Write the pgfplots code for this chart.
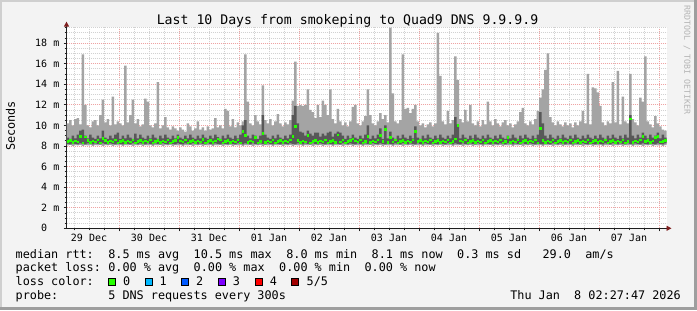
\documentclass[border=0pt]{standalone}
\usepackage{pgfplots}
\pgfplotsset{compat=1.18}
\usepackage{pgfplotstable}
\usepgfplotslibrary{fillbetween}
\usetikzlibrary{arrows.meta}
\usepackage{fontspec}
\setmainfont{DejaVu Sans Mono}
\definecolor{backc}{HTML}{F3F3F3}
\definecolor{shadea}{HTML}{CFCFCF}
\definecolor{shadeb}{HTML}{9E9E9E}
\definecolor{mgridc}{HTML}{EFA3A3}
\definecolor{gridc}{HTML}{D2D2D2}
\definecolor{axisc}{HTML}{1F1F1F}
\definecolor{arrowc}{HTML}{7F1F1F}
\definecolor{smokel}{HTML}{A4A4A4}
\definecolor{smoked}{HTML}{585858}
\definecolor{loss0}{HTML}{26FF00}
\definecolor{loss1}{HTML}{00B8FF}
\definecolor{loss2}{HTML}{0059FF}
\definecolor{loss3}{HTML}{7E00FF}
\definecolor{loss4}{HTML}{FF0000}
\definecolor{loss5}{HTML}{A10000}
\definecolor{wmc}{HTML}{B4B4B4}
% hourly smoke: x = hour start (0 = first red day line), hi = max, q4 = 4th ping, md = median, q2 = 2nd ping, lo = min (ms)
\pgfplotstableread{
x hi q4 md q2 lo
-21 10.2 8.8 8.45 8.2 8.05
-20 10.5 8.7 8.55 8.15 8.1
-19 10.0 9.0 8.35 8.25 8.0
-18 10.6 8.75 8.5 8.2 8.08
-17 10.7 9.1 8.4 8.15 8.05
-16 10.1 9.5 8.9 8.25 8.1
-15 16.9 9.6 8.3 8.2 8.0
-14 12.0 9.0 8.85 8.15 8.08
-13 10.0 8.75 8.55 8.25 8.05
-12 9.8 9.1 8.35 8.2 8.1
-11 10.4 8.8 8.5 8.15 8.0
-10 10.5 8.7 8.4 8.25 8.08
-9 10.0 9.0 8.6 8.2 8.05
-8 11.0 8.75 8.3 8.15 8.1
-7 12.5 9.5 8.75 8.25 8.0
-6 10.3 8.8 8.55 8.2 8.08
-5 10.6 8.7 8.35 8.15 8.05
-4 10.0 9.0 8.5 8.25 8.1
-3 12.8 8.75 8.4 8.2 8.0
-2 10.1 9.1 8.6 8.15 8.08
-1 10.4 9.3 8.3 8.25 8.05
0 10.2 8.7 8.45 8.2 8.1
1 10.0 9.0 8.55 8.15 8.0
2 15.8 8.75 8.35 8.25 8.08
3 10.3 9.1 8.5 8.2 8.05
4 11.0 8.8 8.4 8.15 8.1
5 12.5 8.7 8.6 8.25 8.0
6 10.2 9.2 8.3 8.2 8.08
7 10.6 8.75 8.45 8.15 8.05
8 9.9 9.1 8.55 8.25 8.1
9 10.1 8.8 8.35 8.2 8.0
10 12.6 8.7 8.5 8.15 8.08
11 12.3 9.0 8.4 8.25 8.05
12 10.0 8.75 8.6 8.2 8.1
13 9.8 9.1 8.3 8.15 8.0
14 10.2 8.8 8.45 8.25 8.08
15 14.2 8.7 8.55 8.2 8.05
16 9.7 9.0 8.35 8.15 8.1
17 10.0 8.75 8.5 8.25 8.0
18 10.8 9.1 8.4 8.2 8.08
19 9.8 8.8 8.6 8.15 8.05
20 9.6 8.7 8.3 8.25 8.1
21 9.9 9.0 8.45 8.2 8.0
22 9.7 8.75 8.55 8.15 8.08
23 9.5 9.1 8.8 8.25 8.05
24 9.8 8.8 8.5 8.2 8.1
25 9.6 8.7 8.4 8.15 8.0
26 9.4 9.0 8.6 8.25 8.08
27 10.2 8.75 8.3 8.2 8.05
28 9.9 9.1 8.45 8.15 8.1
29 9.5 8.8 8.55 8.25 8.0
30 9.7 8.7 8.35 8.2 8.08
31 10.4 9.0 8.5 8.15 8.05
32 9.6 8.75 8.4 8.25 8.1
33 9.8 9.1 8.65 8.2 8.0
34 9.5 8.8 8.3 8.15 8.08
35 9.9 8.7 8.45 8.25 8.05
36 9.6 9.0 8.55 8.2 8.1
37 9.7 8.75 8.35 8.15 8.0
38 10.7 9.1 8.5 8.25 8.08
39 9.8 8.85 8.7 8.2 8.05
40 10.0 8.7 8.6 8.15 8.1
41 9.7 9.0 8.3 8.25 8.0
42 11.6 8.75 8.45 8.2 8.08
43 11.4 9.1 8.55 8.15 8.05
44 9.9 8.8 8.35 8.25 8.1
45 10.6 8.7 8.5 8.2 8.0
46 9.8 9.0 8.4 8.15 8.08
47 10.3 8.75 8.6 8.25 8.05
48 10.0 9.1 8.3 8.2 8.1
49 10.4 10.0 9.4 8.15 8.0
50 16.9 10.5 9.0 8.25 8.08
51 12.3 9.0 8.35 8.2 8.05
52 10.2 8.75 8.5 8.15 8.1
53 10.0 9.1 8.4 8.25 8.0
54 11.0 9.0 8.8 8.2 8.08
55 10.4 8.7 8.3 8.15 8.05
56 10.1 9.0 8.45 8.25 8.1
57 13.9 11.0 9.2 8.2 8.0
58 10.5 9.1 8.35 8.15 8.08
59 10.2 8.8 8.5 8.25 8.05
60 10.6 8.7 8.4 8.2 8.1
61 10.0 9.0 8.6 8.15 8.0
62 10.4 8.75 8.3 8.25 8.08
63 11.1 9.1 8.45 8.2 8.05
64 10.2 8.8 8.55 8.15 8.1
65 9.9 8.7 8.35 8.25 8.0
66 10.3 9.0 8.5 8.2 8.08
67 10.1 8.75 8.4 8.15 8.05
68 10.5 9.1 8.6 8.25 8.1
69 12.4 11.0 8.9 8.2 8.0
70 16.2 11.9 9.9 8.15 8.08
71 11.9 10.2 8.55 8.25 8.05
72 12.0 9.4 8.35 8.2 8.1
73 11.9 9.3 8.5 8.15 8.0
74 12.0 9.0 8.4 8.25 8.08
75 13.5 9.5 9.0 8.2 8.05
76 11.5 9.2 8.3 8.15 8.1
77 11.3 9.0 8.45 8.25 8.0
78 10.7 9.3 8.55 8.2 8.08
79 12.0 9.3 8.35 8.15 8.05
80 10.8 8.9 8.5 8.25 8.1
81 12.4 9.2 8.4 8.2 8.0
82 12.0 9.0 8.6 8.15 8.08
83 11.0 9.3 8.3 8.25 8.05
84 13.5 9.4 8.45 8.2 8.1
85 10.6 8.9 8.55 8.15 8.0
86 10.2 9.2 8.35 8.25 8.08
87 11.6 9.4 9.05 8.2 8.05
88 10.4 9.3 8.4 8.15 8.1
89 10.0 9.0 8.6 8.25 8.0
90 10.3 8.7 8.3 8.2 8.08
91 9.9 9.0 8.45 8.15 8.05
92 10.4 8.75 8.55 8.25 8.1
93 11.8 9.1 8.7 8.2 8.0
94 12.0 8.8 8.5 8.15 8.08
95 10.2 8.7 8.4 8.25 8.05
96 10.0 9.0 8.6 8.2 8.1
97 10.4 8.75 8.3 8.15 8.0
98 10.9 9.1 8.45 8.25 8.08
99 13.5 10.0 8.9 8.2 8.05
100 11.0 8.7 8.35 8.15 8.1
101 10.2 9.0 8.5 8.25 8.0
102 10.0 8.75 8.4 8.2 8.08
103 10.4 9.1 8.6 8.15 8.05
104 11.2 9.7 9.0 8.25 8.1
105 10.6 8.7 8.45 8.2 8.0
106 11.0 10.0 9.6 8.15 8.08
107 10.3 8.75 8.35 8.25 8.05
108 19.5 9.4 8.8 8.2 8.1
109 13.1 8.8 8.4 8.15 8.0
110 10.4 8.7 8.6 8.25 8.08
111 10.2 9.0 8.3 8.2 8.05
112 10.5 8.75 8.45 8.15 8.1
113 16.9 9.1 8.55 8.25 8.0
114 11.6 8.8 8.35 8.2 8.08
115 11.7 8.7 8.5 8.15 8.05
116 11.2 9.0 8.4 8.25 8.1
117 11.6 8.75 8.6 8.2 8.0
118 12.0 9.9 9.4 8.15 8.08
119 10.4 8.8 8.45 8.25 8.05
120 10.0 8.7 8.55 8.2 8.1
121 10.2 9.0 8.35 8.15 8.0
122 9.8 8.75 8.5 8.25 8.08
123 10.1 9.1 8.4 8.2 8.05
124 10.3 8.8 8.6 8.15 8.1
125 9.9 8.7 8.3 8.25 8.0
126 10.2 9.0 8.45 8.2 8.08
127 19.0 8.75 8.55 8.15 8.05
128 14.8 9.1 8.35 8.25 8.1
129 10.4 8.8 8.5 8.2 8.0
130 10.1 8.7 8.4 8.15 8.08
131 11.4 9.0 8.6 8.25 8.05
132 10.2 8.75 8.3 8.2 8.1
133 10.5 9.1 8.45 8.15 8.0
134 16.7 10.8 8.7 8.25 8.08
135 14.4 10.1 10.0 8.2 8.05
136 10.6 8.75 8.5 8.15 8.1
137 10.3 9.1 8.4 8.25 8.0
138 11.5 8.8 8.6 8.2 8.08
139 10.4 8.7 8.3 8.15 8.05
140 12.0 9.0 8.45 8.25 8.1
141 10.2 8.75 8.55 8.2 8.0
142 10.0 9.1 8.35 8.15 8.08
143 10.4 8.8 8.5 8.25 8.05
144 9.9 8.7 8.4 8.2 8.1
145 10.5 9.0 8.6 8.15 8.0
146 10.1 8.75 8.3 8.25 8.08
147 12.3 9.1 8.45 8.2 8.05
148 10.4 8.8 8.55 8.15 8.1
149 10.0 8.7 8.35 8.25 8.0
150 10.6 9.0 8.5 8.2 8.08
151 10.2 8.75 8.4 8.15 8.05
152 9.9 9.1 8.6 8.25 8.1
153 10.3 8.8 8.3 8.2 8.0
154 10.5 8.7 8.45 8.15 8.08
155 10.0 9.0 8.8 8.25 8.05
156 10.2 8.75 8.35 8.2 8.1
157 9.8 9.1 8.5 8.15 8.0
158 10.1 8.8 8.4 8.25 8.08
159 10.4 8.7 8.6 8.2 8.05
160 11.3 9.0 8.3 8.15 8.1
161 11.7 8.75 8.45 8.25 8.0
162 10.2 9.1 8.55 8.2 8.08
163 10.0 8.8 8.35 8.15 8.05
164 10.4 8.7 8.5 8.25 8.1
165 10.1 9.0 8.4 8.2 8.0
166 10.6 8.75 8.6 8.15 8.08
167 11.4 9.1 8.3 8.25 8.05
168 12.7 11.3 9.7 8.2 8.1
169 13.5 10.2 8.55 8.15 8.0
170 15.4 9.0 8.35 8.25 8.08
171 17.0 8.75 8.5 8.2 8.05
172 10.8 9.1 8.4 8.15 8.1
173 10.3 8.8 8.6 8.25 8.0
174 10.0 8.7 8.3 8.2 8.08
175 10.4 9.0 8.45 8.15 8.05
176 10.1 8.75 8.55 8.25 8.1
177 9.9 9.1 8.35 8.2 8.0
178 10.3 8.8 8.5 8.15 8.08
179 10.0 8.7 8.4 8.25 8.05
180 10.2 9.0 8.6 8.2 8.1
181 9.8 8.75 8.3 8.15 8.0
182 10.3 9.1 8.45 8.25 8.08
183 10.0 8.8 8.55 8.2 8.05
184 10.4 8.7 8.35 8.15 8.1
185 11.4 9.0 8.5 8.25 8.0
186 10.2 8.75 8.4 8.2 8.08
187 15.0 9.1 8.6 8.15 8.05
188 10.1 8.8 8.3 8.25 8.1
189 13.7 8.7 8.45 8.2 8.0
190 13.6 9.0 8.55 8.15 8.08
191 13.2 8.75 8.35 8.25 8.05
192 11.9 9.1 8.5 8.2 8.1
193 10.3 8.8 8.4 8.15 8.0
194 10.0 8.7 8.6 8.25 8.08
195 10.4 9.0 8.3 8.2 8.05
196 10.2 8.75 8.45 8.15 8.1
197 14.2 9.1 8.55 8.25 8.0
198 10.3 8.8 8.35 8.2 8.08
199 15.3 8.7 8.5 8.15 8.05
200 10.1 9.0 8.4 8.25 8.1
201 12.8 8.75 8.6 8.2 8.0
202 10.4 9.1 8.3 8.15 8.08
203 10.2 8.8 8.45 8.25 8.05
204 15.0 11.0 10.6 8.2 8.1
205 10.6 9.0 8.35 8.15 8.0
206 10.3 8.75 8.5 8.25 8.08
207 10.0 9.1 8.4 8.2 8.05
208 12.7 8.8 8.6 8.15 8.1
209 12.3 9.3 8.9 8.25 8.0
210 16.7 9.0 8.45 8.2 8.08
211 10.4 8.75 8.55 8.15 8.05
212 10.1 9.1 8.35 8.25 8.1
213 9.8 8.8 8.5 8.2 8.0
214 10.9 9.0 8.8 8.15 8.08
215 10.2 9.3 8.9 8.25 8.05
216 9.9 8.75 8.4 8.2 8.1
217 9.6 9.1 8.45 8.15 8.0
218 9.5 8.8 8.55 8.25 8.08
219 9.5 8.8 8.55 8.25 8.08
}\smoke
\pagecolor{backc}
\begin{document}
\begin{tikzpicture}[x=1bp,y=1bp]
% frame (only the edge strips, so nothing covers the axis layers)
\fill[shadeb] (0,0) rectangle (697,3);
\fill[shadeb] (694,0) rectangle (697,310);
\fill[shadea] (0,308) rectangle (694,310);
\fill[shadea] (0,3) rectangle (2,308);
\begin{axis}[
  at={(66.5bp,81.7bp)}, anchor=south west,
  scale only axis, width=600bp, height=201.7bp,
  xmin=-21, xmax=219, ymin=0, ymax=19.6,
  axis background/.style={fill=white},
  axis x line=bottom, axis y line=left,
  axis line style={draw=axisc, line width=0.8bp},
  x axis line style={-{Triangle[length=5bp,width=5bp,color=arrowc]}, shorten >=-5bp},
  y axis line style={-{Triangle[length=5bp,width=5bp,color=arrowc]}, shorten >=-5bp},
  xtick={0,24,...,216}, xticklabels={},
  minor xtick={-18,-12,-6,6,12,18,30,36,42,54,60,66,78,84,90,102,108,114,126,132,138,150,156,162,174,180,186,198,204,210},
  extra x ticks={-12,12,36,60,84,108,132,156,180,204},
  extra x tick labels={29 Dec,30 Dec,31 Dec,01 Jan,02 Jan,03 Jan,04 Jan,05 Jan,06 Jan,07 Jan},
  extra x tick style={grid=none, major tick length=0pt},
  ytick={0,2,...,18},
  yticklabels={0\phantom{\ m},2 m,4 m,6 m,8 m,10 m,12 m,14 m,16 m,18 m},
  minor ytick={0.5,1,1.5,2.5,3,3.5,4.5,5,5.5,6.5,7,7.5,8.5,9,9.5,10.5,11,11.5,12.5,13,13.5,14.5,15,15.5,16.5,17,17.5,18.5,19,19.5},
  grid=both,
  major grid style={draw=mgridc, line width=0.8bp, dash pattern=on 1bp off 1bp},
  minor grid style={draw=gridc, line width=0.8bp, dash pattern=on 1bp off 1bp},
  tick align=outside,
  major tick length=3bp, minor tick length=2bp,
  tick style={draw=axisc, line width=0.7bp},
  tick label style={font=\fontsize{10bp}{11bp}\selectfont, inner sep=0pt},
  yticklabel style={anchor=east, xshift=-4bp},
  xticklabel style={anchor=north, yshift=-6bp},
]
\addplot[name path=phi, draw=none, const plot mark left] table[x=x,y=hi]{\smoke};
\addplot[name path=plo, draw=none, const plot mark left] table[x=x,y=lo]{\smoke};
\addplot[fill=smokel, draw=none] fill between[of=phi and plo];
\addplot[name path=pq4, draw=none, const plot mark left] table[x=x,y=q4]{\smoke};
\addplot[name path=pq2, draw=none, const plot mark left] table[x=x,y=q2]{\smoke};
\addplot[fill=smoked, draw=none] fill between[of=pq4 and pq2];
\addplot[only marks, mark=-, mark size=1.25bp, mark options={draw=loss0, line width=2.5bp, xshift=1.25bp},
  skip coords between index={240}{241}] table[x=x,y=md]{\smoke};
\end{axis}
\node[anchor=base, inner sep=0pt, font=\fontsize{13.2bp}{15bp}\selectfont] at (347.5,286) {Last 10 Days from smokeping to Quad9 DNS 9.9.9.9};
\node[rotate=90, inner sep=0pt, font=\fontsize{11.8bp}{13bp}\selectfont] at (10.5,184) {Seconds};
\node[rotate=-90, inner sep=0pt, text=wmc, font=\fontsize{8.3bp}{9bp}\selectfont] at (687,250) {RRDTOOL / TOBI OETIKER};
\tikzset{leg/.style={anchor=base west, inner sep=0pt, font=\fontsize{11.8bp}{13bp}\selectfont}}
\node[leg] at (15.5,51.7) {median rtt:};
\node[leg] at (108.1,51.7) {8.5 ms avg};
\node[leg] at (193.5,51.7) {10.5 ms max};
\node[leg] at (286.1,51.7) {8.0 ms min};
\node[leg] at (371.5,51.7) {8.1 ms now};
\node[leg] at (457,51.7) {0.3 ms sd};
\node[leg] at (542.4,51.7) {29.0};
\node[leg] at (585.1,51.7) {am/s};
\node[leg] at (15.5,38.3) {packet loss:};
\node[leg] at (108.1,38.3) {0.00 \% avg};
\node[leg] at (193.5,38.3) {0.00 \% max};
\node[leg] at (279,38.3) {0.00 \% min};
\node[leg] at (364.4,38.3) {0.00 \% now};
\node[leg] at (15.5,24.3) {loss color:};
\draw[fill=loss0, draw=black, line width=0.7bp] (108.6,24.3) rectangle ++(7,7);
\draw[fill=loss1, draw=black, line width=0.7bp] (145.2,24.3) rectangle ++(7,7);
\draw[fill=loss2, draw=black, line width=0.7bp] (181.6,24.3) rectangle ++(7,7);
\draw[fill=loss3, draw=black, line width=0.7bp] (218.2,24.3) rectangle ++(7,7);
\draw[fill=loss4, draw=black, line width=0.7bp] (255,24.3) rectangle ++(7,7);
\draw[fill=loss5, draw=black, line width=0.7bp] (291.6,24.3) rectangle ++(7,7);
\node[leg] at (123,24.3) {0};
\node[leg] at (159.3,24.3) {1};
\node[leg] at (195.8,24.3) {2};
\node[leg] at (232.6,24.3) {3};
\node[leg] at (269.6,24.3) {4};
\node[leg] at (306.5,24.3) {5/5};
\node[leg] at (15.5,10.7) {probe:};
\node[leg] at (108.1,10.7) {5 DNS requests every 300s};
\node[anchor=base east, inner sep=0pt, font=\fontsize{11.8bp}{13bp}\selectfont] at (681,10.7) {Thu Jan\ \ 8 02:27:47 2026};
\end{tikzpicture}
\end{document}
